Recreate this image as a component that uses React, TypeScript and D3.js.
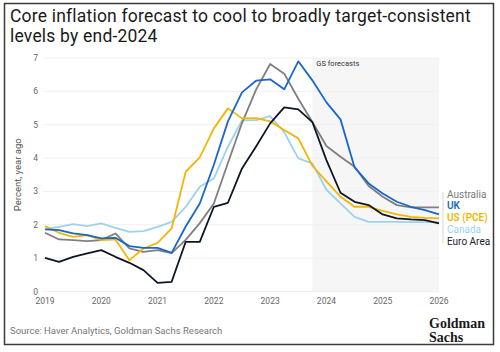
import * as d3 from "d3";

const QUARTERS = [
  "2019Q1", "2019Q2", "2019Q3", "2019Q4",
  "2020Q1", "2020Q2", "2020Q3", "2020Q4",
  "2021Q1", "2021Q2", "2021Q3", "2021Q4",
  "2022Q1", "2022Q2", "2022Q3", "2022Q4",
  "2023Q1", "2023Q2", "2023Q3", "2023Q4",
  "2024Q1", "2024Q2", "2024Q3", "2024Q4",
  "2025Q1", "2025Q2", "2025Q3", "2025Q4",
  "2026Q1",
];

const AUSTRALIA = [1.76, 1.56, 1.54, 1.51, 1.54, 1.74, 1.29, 1.19, 1.24, 1.15, 1.55, 2.05, 2.64, 3.85, 5.05, 6.05, 6.82, 6.53, 5.78, 5.08, 4.36, 4.04, 3.74, 3.16, 2.84, 2.59, 2.52, 2.52, 2.52];
const UK = [1.86, 1.84, 1.74, 1.69, 1.59, 1.61, 1.36, 1.31, 1.31, 1.16, 1.95, 2.64, 3.8, 5.1, 5.97, 6.32, 6.36, 6.06, 6.9, 6.33, 5.67, 5.16, 3.72, 3.24, 2.94, 2.69, 2.54, 2.44, 2.31];
const US_PCE = [1.96, 1.76, 1.64, 1.69, 1.54, 1.56, 0.94, 1.29, 1.46, 1.89, 3.59, 4.02, 4.89, 5.49, 5.19, 5.2, 5.1, 4.84, 4.59, 3.77, 3.3, 2.84, 2.54, 2.54, 2.42, 2.31, 2.24, 2.21, 2.19];
const CANADA = [1.86, 1.94, 2.02, 1.96, 2.04, 1.91, 1.79, 1.81, 1.94, 2.09, 2.54, 3.14, 3.39, 4.34, 5.13, 5.14, 5.26, 4.78, 3.99, 3.84, 3.05, 2.64, 2.24, 2.09, 2.09, 2.09, 2.08, 2.08, 2.07];
const EURO_AREA = [1.01, 0.89, 1.04, 1.14, 1.24, 1.04, 0.86, 0.64, 0.26, 0.29, 1.49, 1.49, 2.54, 2.66, 3.69, 4.35, 5.04, 5.52, 5.46, 5.08, 3.94, 2.96, 2.69, 2.59, 2.31, 2.19, 2.16, 2.14, 2.04];

const SERIES = [
  { name: "Australia", values: AUSTRALIA, color: "#7f7f7f", labelColor: "#7a7a7a", weight: 400 },
  { name: "UK", values: UK, color: "#1a66c9", labelColor: "#1a66c9", weight: 600 },
  { name: "US (PCE)", values: US_PCE, color: "#f2b705", labelColor: "#f2b705", weight: 600 },
  { name: "Canada", values: CANADA, color: "#9dd2ef", labelColor: "#9dd2ef", weight: 400 },
  { name: "Euro Area", values: EURO_AREA, color: "#0e1624", labelColor: "#1b1f2a", weight: 400 },
];
// draw order: back to front
const DRAW_ORDER = ["Canada", "Australia", "US (PCE)", "UK", "Euro Area"];

const YEAR_TICKS = [2019, 2020, 2021, 2022, 2023, 2024, 2025, 2026];
const Y_TICKS = [0, 1, 2, 3, 4, 5, 6, 7];
const FORECAST_START = "2023Q4";

const PLOT = { left: 45, right: 439, top: 58, bottom: 291.5 };

function quarterToYear(q: string): number {
  return +q.slice(0, 4) + (+q.slice(5) - 1) / 4;
}

export default function App() {
  const x = d3.scaleLinear().domain([2019, 2026]).range([PLOT.left, PLOT.right]);
  const y = d3.scaleLinear().domain([0, 7]).range([PLOT.bottom, PLOT.top]);

  const line = d3
    .line<number>()
    .x((_, i) => x(quarterToYear(QUARTERS[i])))
    .y((d) => y(d));

  const fx = x(quarterToYear(FORECAST_START));
  const font = "Roboto, 'Open Sans', sans-serif";
  const serif = "'Liberation Serif', 'DejaVu Serif', serif";

  return (
    <svg
      width={500}
      height={352}
      style={{ position: "absolute", left: 0, top: 0, background: "#fff" }}
      fontFamily={font}
    >
      <rect x={4.5} y={3.5} width={489} height={341} fill="#fff" stroke="#3a3a3a" strokeWidth={1.5} />

      {/* Title */}
      <text x={10} y={22} fontSize={17.5} letterSpacing={0.2} fill="#1a1a1a">
        Core inflation forecast to cool to broadly target-consistent
      </text>
      <text x={10} y={42} fontSize={17.5} letterSpacing={0.2} fill="#1a1a1a">
        levels by end-2024
      </text>

      {/* Forecast band */}
      <rect x={fx} y={PLOT.top} width={PLOT.right - fx} height={PLOT.bottom - PLOT.top} fill="#f6f6f6" />
      <text x={fx + 4} y={66} fontSize={7.5} fill="#333">
        GS forecasts
      </text>

      {/* Grid */}
      {Y_TICKS.map((t) => (
        <g key={t}>
          <line x1={PLOT.left - 2} x2={PLOT.right} y1={y(t)} y2={y(t)} stroke="#f0f0f0" strokeWidth={1} />
          <text x={38} y={y(t) + 3} fontSize={8.5} textAnchor="end" fill="#666">
            {t}
          </text>
        </g>
      ))}

      {YEAR_TICKS.map((t) => (
        <text key={t} x={x(t)} y={304} fontSize={8.5} textAnchor="middle" fill="#666">
          {t}
        </text>
      ))}

      <text
        transform={`translate(21,${(PLOT.top + PLOT.bottom) / 2}) rotate(-90)`}
        fontSize={9.5}
        textAnchor="middle"
        fill="#555"
      >
        Percent, year ago
      </text>

      {/* Lines */}
      {DRAW_ORDER.map((n) => {
        const s = SERIES.find((d) => d.name === n)!;
        return (
          <path
            key={n}
            d={line(s.values) ?? ""}
            fill="none"
            stroke={s.color}
            strokeWidth={1.8}
            strokeLinejoin="round"
          />
        );
      })}

      {/* Legend */}
      <line x1={443} x2={443} y1={192} y2={243} stroke="#d6d6d6" strokeWidth={1} />
      {SERIES.map((s, i) => (
        <text
          key={s.name}
          x={447}
          y={197.5 + i * 11.8}
          fontSize={10}
          fill={s.labelColor}
          fontWeight={s.weight}
        >
          {s.name}
        </text>
      ))}

      {/* Footer */}
      <text x={10} y={334} fontSize={9.5} fill="#777">
        Source: Haver Analytics, Goldman Sachs Research
      </text>
      <text x={429} y={328} fontSize={14} fontWeight={700} fill="#1a1a1a" fontFamily={serif}>
        Goldman
      </text>
      <text x={429} y={342} fontSize={14} fontWeight={700} fill="#1a1a1a" fontFamily={serif}>
        Sachs
      </text>
    </svg>
  );
}
